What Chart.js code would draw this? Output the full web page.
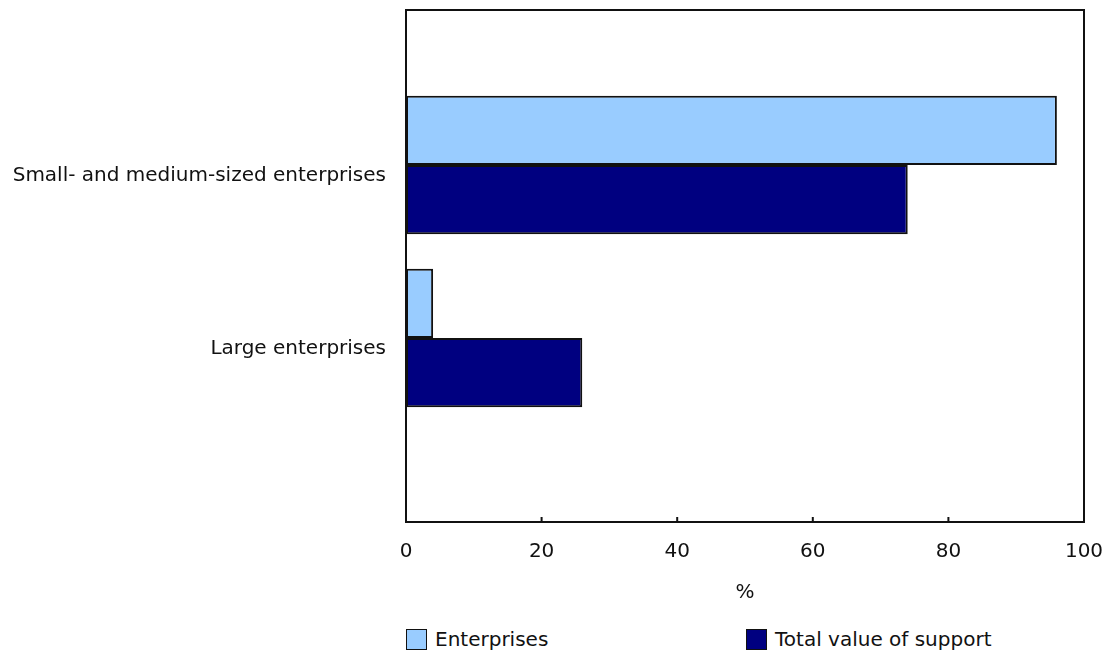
<!DOCTYPE html>
<html>
<head>
<meta charset="utf-8">
<script src="https://cdn.jsdelivr.net/npm/chart.js@4.4.0/dist/chart.umd.min.js"></script>
<style>
  body { margin: 0; background: #fff; font-family: "DejaVu Sans", Verdana, sans-serif; }
  #wrap { position: relative; width: 1108px; height: 656px; }
  #box { position: absolute; left: 0; top: 0; width: 1108px; height: 610px; }
  #legend { position: absolute; top: 627px; left: 0; width: 1108px; height: 24px; }
  .item { position: absolute; top: 0; display: flex; align-items: center; font-size: 20px; color: #111; }
  .swatch { width: 19px; height: 19px; border: 1.5px solid #111; margin-right: 8px; }
</style>
</head>
<body>
<div id="wrap">
  <div id="box"><canvas id="chart"></canvas></div>
  <div id="legend"></div>
</div>
<script>
// categories and series
const categories = ["Small- and medium-sized enterprises", "Large enterprises"];
const enterprises = [96, 4];
const totalSupport = [74, 26];
const xTicks = [0, 20, 40, 60, 80, 100];

const seriesNames = ["Enterprises", "Total value of support"];
const seriesColors = ["#99CCFF", "#000080"];

const FONT = "'DejaVu Sans', Verdana, sans-serif";
const SIZE = 20;

function points(values) {
  return values.map((v, i) => ({ x: v, y: i + 1 }));
}

// frame round the plot + small inward tick marks on the x axis
const framePlugin = {
  id: "frame",
  afterDraw(chart) {
    const { ctx, chartArea: a } = chart;
    const xs = chart.scales.x;
    ctx.save();
    ctx.strokeStyle = "#111";
    ctx.lineWidth = 2;
    ctx.strokeRect(a.left, a.top, a.right - a.left, a.bottom - a.top);
    xs.ticks.forEach(t => {
      const px = xs.getPixelForValue(t.value);
      ctx.beginPath();
      ctx.moveTo(px, a.bottom);
      ctx.lineTo(px, a.bottom - 5);
      ctx.stroke();
    });
    ctx.restore();
  }
};

const ctx = document.getElementById("chart").getContext("2d");
const chart = new Chart(ctx, {
  type: "bar",
  data: {
    datasets: [
      { label: seriesNames[0], data: points(enterprises), backgroundColor: seriesColors[0] },
      { label: seriesNames[1], data: points(totalSupport), backgroundColor: seriesColors[1] }
    ]
  },
  options: {
    indexAxis: "y",
    responsive: true,
    maintainAspectRatio: false,
    animation: false,
    layout: { padding: { left: 0, right: 24, top: 10, bottom: 0 } },
    datasets: {
      bar: {
        categoryPercentage: 0.8,
        barPercentage: 1.0,
        borderColor: "#111",
        borderWidth: 2,
        borderSkipped: false
      }
    },
    plugins: {
      legend: { display: false },
      tooltip: { enabled: false }
    },
    scales: {
      x: {
        type: "linear",
        min: 0,
        max: 100,
        afterBuildTicks: s => { s.ticks = xTicks.map(v => ({ value: v })); },
        afterFit: s => { s.height = 88; s.paddingLeft = 0; s.paddingRight = 0; },
        grid: { display: false, drawTicks: false },
        border: { display: false },
        ticks: { padding: 18, color: "#111", font: { family: FONT, size: SIZE } },
        title: { display: true, text: "%", color: "#111", font: { family: FONT, size: SIZE }, padding: { top: 0, bottom: 5 } }
      },
      y: {
        type: "linear",
        reverse: true,
        offset: false,
        min: 0.104,
        max: 3.064,
        afterBuildTicks: s => { s.ticks = categories.map((c, i) => ({ value: i + 1 })); },
        afterFit: s => { s.width = 406; s.paddingTop = 0; s.paddingBottom = 0; },
        grid: { display: false, drawTicks: false, offset: false },
        border: { display: false },
        ticks: {
          padding: 20,
          labelOffset: 11,
          color: "#111",
          font: { family: FONT, size: SIZE },
          callback: v => categories[v - 1]
        }
      }
    }
  },
  plugins: [framePlugin]
});

// legend below the chart
const legend = document.getElementById("legend");
const legendLeft = [406, 746];
chart.data.datasets.forEach((ds, i) => {
  const item = document.createElement("div");
  item.className = "item";
  item.style.left = legendLeft[i] + "px";
  item.innerHTML = '<span class="swatch" style="background:' + ds.backgroundColor + '"></span>' + ds.label;
  legend.appendChild(item);
});
</script>
</body>
</html>
